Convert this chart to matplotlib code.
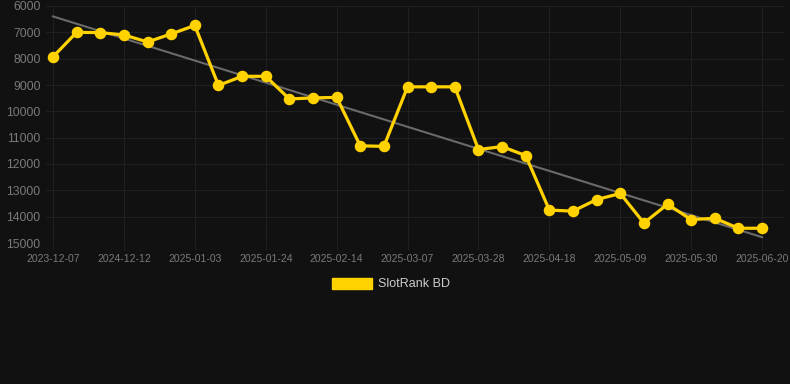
import numpy as np
import matplotlib
matplotlib.use("Agg")
import matplotlib.pyplot as plt
from matplotlib.patches import Patch

# rank values, one per week (lower rank number = better)
rank = [7930, 7000, 7010, 7100, 7365, 7060, 6740, 9015, 8670, 8670,
        9530, 9490, 9470, 11310, 11330, 9070, 9070, 9070, 11450, 11340,
        11680, 13750, 13790, 13350, 13120, 14240, 13530, 14110, 14060, 14440,
        14440]
tick_labels = ['2023-12-07', '2024-12-12', '2025-01-03', '2025-01-24', '2025-02-14',
               '2025-03-07', '2025-03-28', '2025-04-18', '2025-05-09', '2025-05-30',
               '2025-06-20']
y_ticks = list(range(6000, 15001, 1000))
series_name = 'SlotRank BD'

bg = '#111111'
grid_c = '#1f1f1f'
text_c = '#7a7a7a'
yellow = '#FFD200'

plt.rcParams['font.family'] = ['Liberation Sans', 'DejaVu Sans']

fig = plt.figure(figsize=(7.9, 3.84), dpi=100, facecolor=bg)
ax = fig.add_axes([46 / 790, 1 - 243 / 384, 739 / 790, 237 / 384])
ax.set_facecolor(bg)

x = np.arange(len(rank))
# linear trend
k, b = np.polyfit(x, rank, 1)
ax.plot([x[0], x[-1]], [k * x[0] + b, k * x[-1] + b], color='#6a6a6a', lw=1.5, zorder=2)

ax.plot(x, rank, color=yellow, lw=2.3, marker='o', markersize=7.3, zorder=3)

ax.set_ylim(15000, 6000)
ax.set_yticks(y_ticks)
ax.set_xlim(-0.296, 30.97)
ax.set_xticks(x[::3])
ax.set_xticklabels(tick_labels)

ax.grid(True, color=grid_c, lw=0.8)
for s in ax.spines.values():
    s.set_visible(False)
ax.tick_params(axis='x', colors=grid_c, labelcolor=text_c, labelsize=7.5, length=5, pad=3)
ax.tick_params(axis='y', length=0, labelcolor=text_c, labelsize=8.8, pad=4)

fig.legend(handles=[Patch(facecolor=yellow, edgecolor=yellow)], labels=[series_name],
           loc='center', bbox_to_anchor=(391 / 790, 1 - 284 / 384), frameon=False,
           handlelength=3.2, handleheight=1.0, handletextpad=0.55, fontsize=9,
           labelcolor='#cccccc')

fig.savefig('out.png', dpi=100, facecolor=bg)
